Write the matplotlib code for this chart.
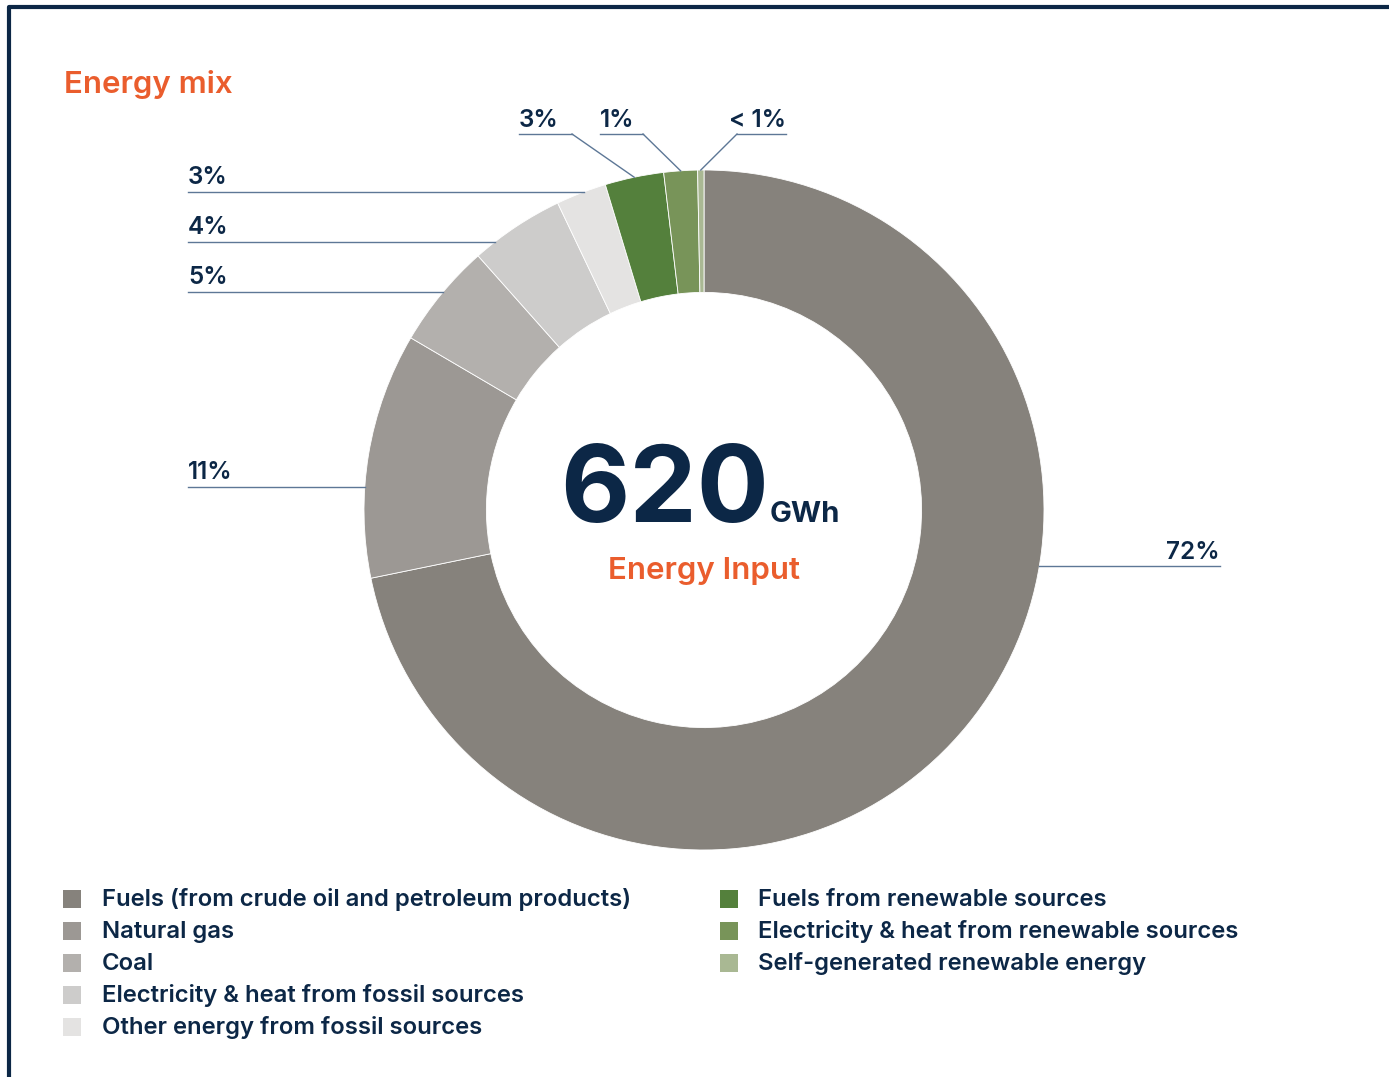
import numpy as np
import matplotlib
matplotlib.use("Agg")
import matplotlib.pyplot as plt
from matplotlib.patches import Rectangle

# data (share of energy input, %)
categories = [
    "Fuels (from crude oil and petroleum products)",
    "Natural gas",
    "Coal",
    "Electricity & heat from fossil sources",
    "Other energy from fossil sources",
    "Fuels from renewable sources",
    "Electricity & heat from renewable sources",
    "Self-generated renewable energy",
]
shares = [72.0, 11.7, 5.0, 4.5, 2.4, 2.8, 1.6, 0.3]
labels = ["72%", "11%", "5%", "4%", "3%", "3%", "1%", "< 1%"]
colors = ["#86827c", "#9c9894", "#b3b0ad", "#cdcccb", "#e4e3e2",
          "#54803c", "#789459", "#a9b893"]
total_gwh = "620"

NAVY = "#0c2746"
ORANGE = "#ea5d2d"
LINE = "#5d7796"

plt.rcParams['font.family'] = ['Inter', 'DejaVu Sans']

W, H = 1389, 1077
fig = plt.figure(figsize=(W / 100, H / 100), dpi=100)
ax = fig.add_axes([0, 0, 1, 1])


def Y(y):
    # layout positions are measured from the top
    return H - y


cx, cy, R = 704, 510, 340
wedges, _ = ax.pie(shares, colors=colors, startangle=90, counterclock=False,
                   center=(cx, Y(cy)), radius=R,
                   wedgeprops=dict(width=R * 0.36, edgecolor='white', linewidth=0.6))

# pie() resets the limits, so set them afterwards
ax.set_xlim(0, W)
ax.set_ylim(0, H)
ax.set_aspect('equal')
ax.axis('off')

# frame
ax.plot([9, 9, W], [0, Y(7), Y(7)], color=NAVY, lw=3, solid_capstyle='butt')

# title
ax.text(64, Y(93), "Energy mix", color=ORANGE, fontsize=22.5,
        fontweight='semibold', va='baseline', ha='left')

# centre text
ax.text(cx + 65, Y(522), total_gwh, color=NAVY, fontsize=77,
        fontweight='bold', va='baseline', ha='right')
ax.text(cx + 66, Y(522), "GWh", color=NAVY, fontsize=21,
        fontweight='bold', va='baseline', ha='left')
ax.text(cx, Y(579), "Energy Input", color=ORANGE, fontsize=22.5,
        fontweight='semibold', va='baseline', ha='center')


def mid_angle(w):
    return np.deg2rad((w.theta1 + w.theta2) / 2)


lab_kw = dict(color=NAVY, fontsize=17.5, fontweight='semibold', va='baseline')

# side labels: horizontal leader ending on the outer ring
side = {0: (566, 'right'), 1: (487, 'left'), 2: (292, 'left'),
        3: (242, 'left'), 4: (192, 'left')}
for i, (ly, side_) in side.items():
    dy = cy - ly
    dx = np.sqrt(R ** 2 - dy ** 2)
    if side_ == 'right':
        x0, x1 = cx + dx, 1220
        ax.plot([x0, x1], [Y(ly), Y(ly)], color=LINE, lw=1)
        ax.text(x1, Y(ly - 7), labels[i], ha='right', **lab_kw)
    else:
        x0, x1 = 188, cx - dx
        ax.plot([x0, x1], [Y(ly), Y(ly)], color=LINE, lw=1)
        ax.text(x0, Y(ly - 8), labels[i], ha='left', **lab_kw)

# top labels: underline + diagonal to the ring
top = {5: (519, 572, 572), 6: (600, 643, 643), 7: (737, 786, 737)}
for i, (xa, xb, xk) in top.items():
    a = mid_angle(wedges[i])
    px, py = cx + R * np.cos(a), Y(cy) + R * np.sin(a)
    ax.plot([xa, xb], [Y(134), Y(134)], color=LINE, lw=1)
    ax.plot([xk, px], [Y(134), py], color=LINE, lw=1)
    if i == 7:
        ax.text(xb, Y(127), labels[i], ha='right', **lab_kw)
    else:
        ax.text(xa, Y(127), labels[i], ha='left', **lab_kw)

# legend
rows = [899, 931, 963, 995, 1027]
for i, name in enumerate(categories):
    if i < 5:
        sx, tx, ry = 63, 102, rows[i]
    else:
        sx, tx, ry = 720, 758, rows[i - 5]
    ax.add_patch(Rectangle((sx, Y(ry) - 9), 18, 18, color=colors[i], lw=0))
    ax.text(tx, Y(ry + 7), name, color=NAVY, fontsize=17.2, fontweight='semibold',
            va='baseline', ha='left')

fig.savefig("out.png", dpi=100)
